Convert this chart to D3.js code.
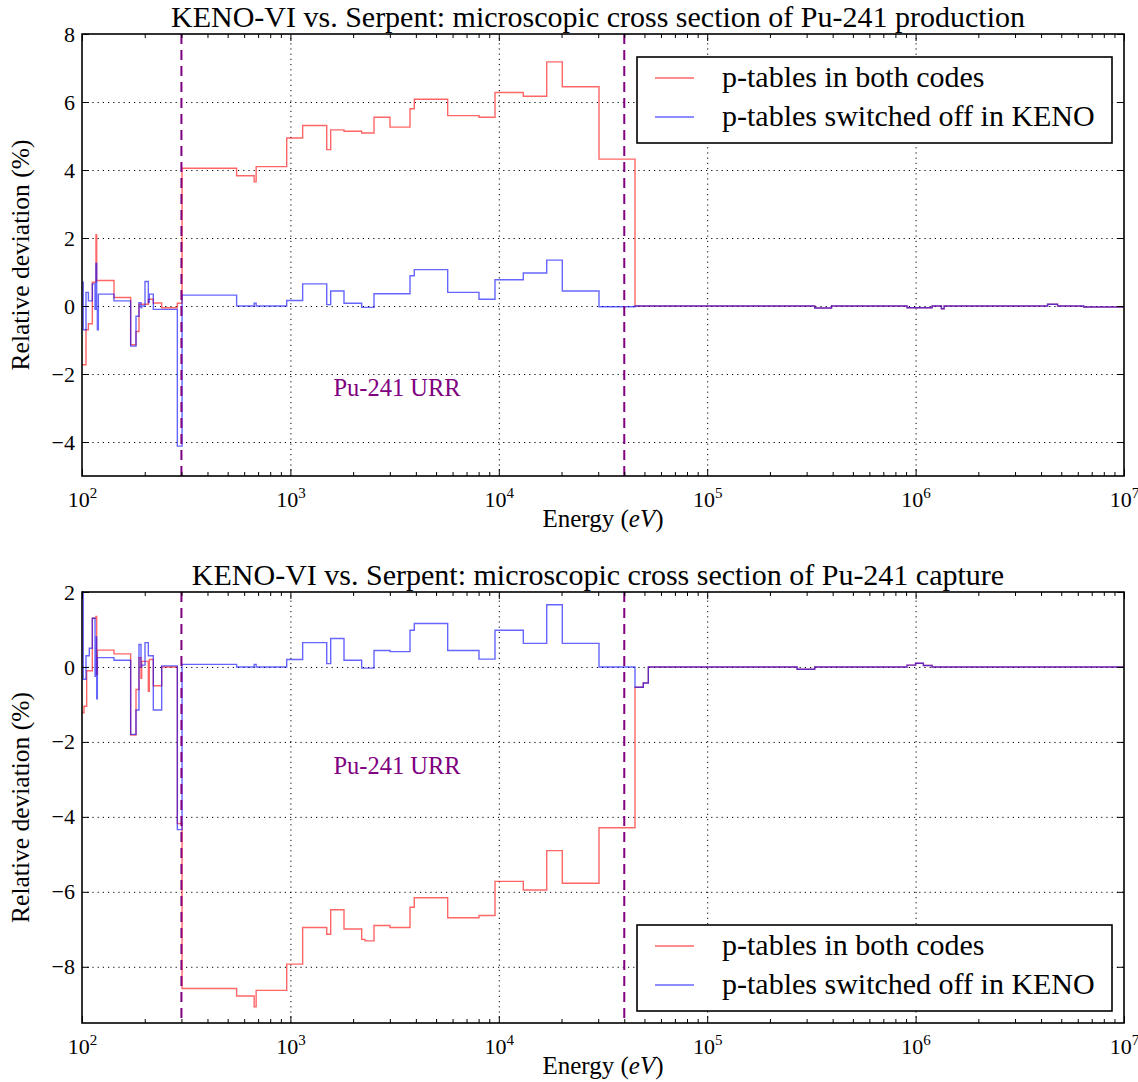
<!DOCTYPE html>
<html>
<head>
<meta charset="utf-8">
<script src="https://cdn.jsdelivr.net/npm/d3@7"></script>
<style>
  body { margin: 0; background: #fff; }
  svg text { font-family: "Liberation Serif", "DejaVu Serif", serif; fill: #000; }
</style>
</head>
<body>
<svg id="chart" width="1138" height="1082" font-family="Liberation Serif"></svg>
<script>
// energy group boundaries (eV), shared by both panels
const edges = [100, 101.4, 102.2, 104.5, 105.3, 107.3, 108.4, 112.1, 115.5, 116.7, 117.6,
  118.5, 119.8, 120.7, 142.4, 171.2, 181.6, 187.7, 191.9, 193.4, 200.6,
  208.1, 210.4, 219.9, 241.2, 286.7, 302, 552, 670, 685, 960,
  1145, 1494, 1561, 1808, 2198, 2280, 2519, 3006, 3749, 3931,
  5685, 8035, 9590, 13110, 16980, 20170, 30260, 45040, 49350, 52170,
  2.7e5, 3.28e5, 3.95e5, 9.1e5, 1.0e6, 1.09e6, 1.2e6, 1.33e6, 1.37e6, 4.3e6,
  4.8e6, 6.4e6, 1e7];

// Pu-241 production, relative deviation (%) per group
const prodBoth = [-1.73, -1.73, -1.73, -0.7, -0.7, -0.52, -0.52, 0.7, 0.7, 2.1,
  0.75, 0.75, 0.75, 0.75, 0.25, -1.14, -0.75, 0.05, 0.05, 0.05,
  0.05, 0.2, 0.2, 0.09, -0.05, 0.08, 4.05, 3.83, 3.65, 4.1,
  4.94, 5.31, 4.6, 5.18, 5.14, 5.09, 5.09, 5.55, 5.26, 5.8,
  6.08, 5.6, 5.55, 6.28, 6.17, 7.18, 6.45, 4.32, 0, 0,
  0, 0, -0.06, 0, -0.05, -0.05, -0.05, 0, -0.08, 0,
  0.05, 0, -0.03];
const prodOff = [0.7, -0.7, -0.7, 0.4, 0.4, 0.15, 0.15, 0.65, -0.1, 1.25,
  -0.1, -0.7, 0.35, 0.35, 0.15, -1.18, -0.3, 0.1, -0.05, 0.0,
  0.72, 0.1, 0.35, -0.1, -0.1, -4.12, 0.32, 0.0, 0.08, 0.0,
  0.16, 0.65, 0.04, 0.44, 0.08, -0.04, -0.04, 0.36, 0.36, 0.89,
  1.07, 0.4, 0.2, 0.77, 0.97, 1.35, 0.44, -0.02, 0, 0,
  0, 0, -0.06, 0, -0.05, -0.05, -0.05, 0, -0.08, 0,
  0.05, 0, -0.03];

// Pu-241 capture, relative deviation (%) per group
const captBoth = [-1.22, -1.22, -1.05, -1.05, -0.1, -0.1, -0.1, 1.3, 1.3, 1.35,
  -0.2, 0.45, 0.45, 0.45, 0.35, -1.82, -0.6, 0.25, -0.3, 0.15,
  0.15, -0.65, 0.2, -0.5, 0.0, -4.18, -8.58, -8.78, -9.07, -8.63,
  -7.93, -6.95, -7.13, -6.48, -6.99, -7.27, -7.31, -6.9, -6.95, -6.41,
  -6.16, -6.69, -6.63, -5.72, -5.95, -4.9, -5.77, -4.29, -0.54, -0.43,
  0, -0.06, 0, 0, 0.05, 0.1, 0.04, 0, 0, 0,
  0, 0, 0];
const captOff = [2.0, -0.33, -0.33, 0.3, 0.3, 0.3, 0.5, 1.3, -0.25, 0.8,
  -0.85, 0.25, 0.25, 0.25, 0.18, -1.8, -1.15, 0.6, 0.0, 0.05,
  0.65, 0.3, 0.3, -1.15, 0.03, -4.34, 0.07, 0.0, 0.07, 0.0,
  0.2, 0.65, 0.09, 0.76, 0.18, -0.03, -0.03, 0.44, 0.41, 0.98,
  1.16, 0.44, 0.21, 0.98, 0.63, 1.66, 0.63, 0.0, -0.54, -0.43,
  0, -0.06, 0, 0, 0.05, 0.1, 0.04, 0, 0, 0,
  0, 0, 0];

const urrBounds = [300, 40000];
const seriesNames = ["p-tables in both codes", "p-tables switched off in KENO"];
const seriesColors = ["#ff0000", "#0000ff"];
const xMajor = [1e2, 1e3, 1e4, 1e5, 1e6, 1e7];
const prodTicks = [8, 6, 4, 2, 0, -2, -4];
const captTicks = [2, 0, -2, -4, -6, -8];

const svg = d3.select("#chart");
const left = 82, right = 1124;
const serif = "Liberation Serif";

const x = d3.scaleLog().domain([1e2, 1e7]).range([left, right]);
const xMinor = [];
for (let p = 2; p < 7; p++) for (let k = 2; k < 10; k++) xMinor.push(k * Math.pow(10, p));

function stepPoints(vals) {
  const pts = vals.map((v, i) => [edges[i], v]);
  pts.push([edges[edges.length - 1], vals[vals.length - 1]]);
  return pts;
}

function fmt(v) { return v < 0 ? "\u2212" + Math.abs(v) : String(v); }

function drawPanel(cfg) {
  const y = d3.scaleLinear().domain(cfg.yDomain).range([cfg.bottom, cfg.top]);
  const g = svg.append("g").attr("font-family", serif);
  const h = cfg.bottom - cfg.top, w = right - left;

  // grid
  g.append("g").attr("transform", `translate(0,${cfg.bottom})`)
    .call(d3.axisBottom(x).tickValues(xMajor.slice(1, -1)).tickSize(-h).tickFormat(""))
    .call(s => s.select(".domain").remove())
    .selectAll("line").attr("stroke", "#000").attr("stroke-dasharray", "1.2,4").attr("stroke-width", 1);
  g.append("g").attr("transform", `translate(${left},0)`)
    .call(d3.axisLeft(y).tickValues(cfg.yTicks.filter(t => t != cfg.yDomain[0] && t != cfg.yDomain[1])).tickSize(-w).tickFormat(""))
    .call(s => s.select(".domain").remove())
    .selectAll("line").attr("stroke", "#000").attr("stroke-dasharray", "1.2,4").attr("stroke-width", 1);

  // data lines
  const line = d3.line().x(d => x(d[0])).y(d => y(d[1])).curve(d3.curveStepAfter);
  cfg.series.forEach((vals, i) => {
    g.append("path").datum(stepPoints(vals))
      .attr("d", line).attr("fill", "none")
      .attr("stroke", seriesColors[i]).attr("stroke-opacity", 0.6)
      .attr("stroke-width", 1.4);
  });

  // URR bounds
  urrBounds.forEach(e => {
    g.append("line").attr("x1", x(e)).attr("x2", x(e))
      .attr("y1", cfg.top).attr("y2", cfg.bottom)
      .attr("stroke", "#800080").attr("stroke-width", 2)
      .attr("stroke-dasharray", "10,6");
  });
  g.append("text").attr("x", x(cfg.urrLabel[0])).attr("y", y(cfg.urrLabel[1]))
    .attr("text-anchor", "middle").attr("font-size", 24.5)
    .style("fill", "#800080").text("Pu-241 URR");

  // ticks, inward on all sides
  const tickStyle = s => {
    s.attr("font-family", serif);
    s.select(".domain").remove();
    s.selectAll("line").attr("stroke", "#000").attr("stroke-width", 1);
  };
  const bx = g.append("g").attr("transform", `translate(0,${cfg.bottom})`)
    .call(d3.axisBottom(x).tickValues(xMajor).tickSizeInner(-7).tickSizeOuter(0).tickPadding(14))
    .call(tickStyle);
  bx.selectAll(".tick text").each(function (d) {
    const t = d3.select(this).text("").attr("font-size", 22).attr("dy", "0.75em");
    t.append("tspan").text("10");
    t.append("tspan").attr("font-size", 15).attr("dy", -9).text(Math.round(Math.log10(d)));
  });
  g.append("g").attr("transform", `translate(0,${cfg.bottom})`)
    .call(d3.axisBottom(x).tickValues(xMinor).tickSizeInner(-4).tickSizeOuter(0).tickFormat(""))
    .call(tickStyle);
  g.append("g").attr("transform", `translate(0,${cfg.top})`)
    .call(d3.axisTop(x).tickValues(xMajor).tickSizeInner(-7).tickSizeOuter(0).tickFormat(""))
    .call(tickStyle);
  g.append("g").attr("transform", `translate(0,${cfg.top})`)
    .call(d3.axisTop(x).tickValues(xMinor).tickSizeInner(-4).tickSizeOuter(0).tickFormat(""))
    .call(tickStyle);
  g.append("g").attr("transform", `translate(${left},0)`)
    .call(d3.axisLeft(y).tickValues(cfg.yTicks).tickSizeInner(-7).tickSizeOuter(0).tickPadding(7).tickFormat(fmt))
    .call(tickStyle)
    .selectAll(".tick text").attr("font-size", 22);
  g.append("g").attr("transform", `translate(${right},0)`)
    .call(d3.axisRight(y).tickValues(cfg.yTicks).tickSizeInner(-7).tickSizeOuter(0).tickFormat(""))
    .call(tickStyle);

  // frame
  g.append("rect").attr("x", left).attr("y", cfg.top).attr("width", w).attr("height", h)
    .attr("fill", "none").attr("stroke", "#000").attr("stroke-width", 1.6);

  // title and labels
  g.append("text").attr("x", (left + right) / 2 - 5).attr("y", cfg.top - 7)
    .attr("text-anchor", "middle").attr("font-size", 30).text(cfg.title);
  const xl = g.append("text").attr("x", (left + right) / 2).attr("y", cfg.bottom + 51)
    .attr("text-anchor", "middle").attr("font-size", 25);
  xl.append("tspan").text("Energy (");
  xl.append("tspan").attr("font-style", "italic").text("eV");
  xl.append("tspan").text(")");
  g.append("text").attr("transform", `translate(29,${(cfg.top + cfg.bottom) / 2}) rotate(-90)`)
    .attr("text-anchor", "middle").attr("font-size", 25.5).text("Relative deviation (%)");

  // legend
  const lg = g.append("g").attr("transform", `translate(637,${cfg.legendTop})`);
  lg.append("rect").attr("width", 475).attr("height", 86)
    .attr("fill", "#fff").attr("stroke", "#000").attr("stroke-width", 1.6);
  seriesNames.forEach((name, i) => {
    const yy = 21 + i * 39;
    lg.append("line").attr("x1", 18).attr("x2", 57).attr("y1", yy).attr("y2", yy)
      .attr("stroke", seriesColors[i]).attr("stroke-opacity", 0.6).attr("stroke-width", 1.4);
    lg.append("text").attr("x", 85).attr("y", yy + 9).attr("font-size", 30).text(name);
  });
}

drawPanel({
  top: 34, bottom: 476, yDomain: [-5, 8], yTicks: prodTicks,
  series: [prodBoth, prodOff],
  title: "KENO-VI vs. Serpent: microscopic cross section of Pu-241 production",
  urrLabel: [3250, -2.65], legendTop: 57
});
drawPanel({
  top: 592, bottom: 1023, yDomain: [-9.5, 2], yTicks: captTicks,
  series: [captBoth, captOff],
  title: "KENO-VI vs. Serpent: microscopic cross section of Pu-241 capture",
  urrLabel: [3250, -2.85], legendTop: 925
});
</script>
</body>
</html>
